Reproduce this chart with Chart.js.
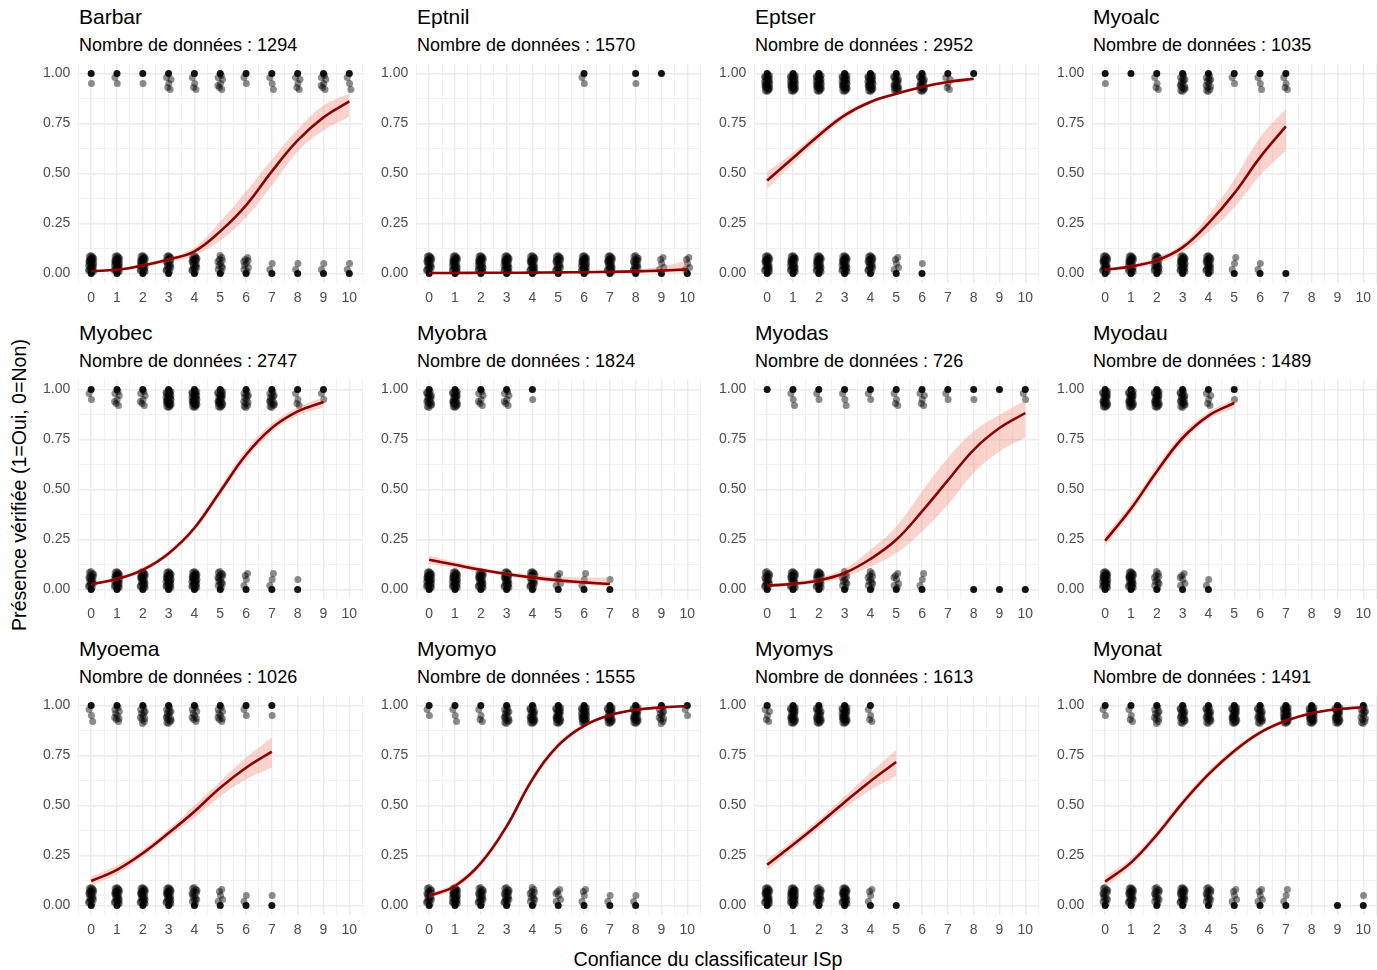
<!DOCTYPE html>
<html><head><meta charset="utf-8">
<script src="https://cdn.jsdelivr.net/npm/chart.js@4.4.0/dist/chart.umd.min.js"></script>
<style>
body{margin:0;background:#fff;width:1377px;height:970px;overflow:hidden;position:relative;font-family:"Liberation Sans",Arial,sans-serif;}
.t{position:absolute;white-space:nowrap;color:#000;line-height:1;}
.w{position:absolute;}
</style></head><body>
<script>
// ---------- DATA ----------
const species = ['Barbar','Eptnil','Eptser','Myoalc','Myobec','Myobra','Myodas','Myodau','Myoema','Myomyo','Myomys','Myonat'];
const nData   = [1294, 1570, 2952, 1035, 2747, 1824, 726, 1489, 1026, 1555, 1613, 1491];
const xTickLabels = ['0','1','2','3','4','5','6','7','8','9','10'];
const yTickLabels = ['0.00','0.25','0.50','0.75','1.00'];

// visible points per confidence level (index = 0..10), at 1 (Oui) and 0 (Non)
const barbarOnes  = [2,3,2,6,5,8,3,4,6,8,4];
const barbarZeros = [30,30,28,22,22,12,10,3,3,3,3];
const eptnilOnes  = [0,0,0,0,0,0,3,0,2,1,0];
const eptnilZeros = [22,28,28,28,26,22,30,26,20,6,6];
const eptserOnes  = [30,30,30,30,30,22,22,6,1,0,0];
const eptserZeros = [26,28,28,28,22,6,2,0,0,0,0];
const myoalcOnes  = [2,1,5,16,14,3,4,5,0,0,0];
const myoalcZeros = [26,28,28,30,24,4,3,1,0,0,0];
const myobecOnes  = [3,8,8,30,30,26,14,16,5,3,0];
const myobecZeros = [20,30,26,30,30,16,5,4,2,0,0];
const myobraOnes  = [20,26,8,8,2,0,0,0,0,0,0];
const myobraZeros = [30,30,26,26,22,6,4,2,0,0,0];
const myodasOnes  = [1,4,3,4,3,5,6,3,2,1,3];
const myodasZeros = [20,24,24,12,12,8,4,0,1,1,1];
const myodauOnes  = [26,26,26,20,6,2,0,0,0,0,0];
const myodauZeros = [30,26,12,7,3,0,0,0,0,0,0];
const myoemaOnes  = [4,10,12,16,10,10,3,2,0,0,0];
const myoemaZeros = [22,26,26,26,16,6,3,2,0,0,0];
const myomyoOnes  = [3,4,5,16,22,26,30,26,26,12,3];
const myomyoZeros = [20,30,20,20,12,7,5,3,3,0,0];
const myomysOnes  = [6,26,22,28,5,0,0,0,0,0,0];
const myomysZeros = [26,30,20,26,5,1,0,0,0,0,0];
const myonatOnes  = [3,5,12,20,20,26,20,30,30,26,14];
const myonatZeros = [16,22,16,22,16,6,6,4,0,1,2];

// fitted logistic curve and 95% band, read at x = 0,1,2,...
const barbarFit = [0.012,0.018,0.04,0.07,0.11,0.21,0.34,0.51,0.665,0.78,0.86];
const barbarLo  = [0.008,0.012,0.032,0.057,0.09,0.165,0.28,0.44,0.61,0.715,0.785];
const barbarHi  = [0.016,0.022,0.048,0.078,0.13,0.26,0.41,0.57,0.72,0.84,0.90];
const eptnilFit = [0.002,0.002,0.003,0.003,0.004,0.005,0.006,0.008,0.01,0.014,0.02];
const eptnilLo  = [0.001,0.001,0.002,0.002,0.003,0.004,0.004,0.005,0.005,0.005,0.005];
const eptnilHi  = [0.004,0.004,0.004,0.005,0.006,0.007,0.009,0.013,0.02,0.035,0.065];
const eptserFit = [0.465,0.577,0.69,0.79,0.857,0.898,0.932,0.957,0.973];
const eptserLo  = [0.423,0.55,0.67,0.775,0.847,0.89,0.924,0.948,0.962];
const eptserHi  = [0.507,0.603,0.71,0.805,0.867,0.906,0.94,0.966,0.982];
const myoalcFit = [0.018,0.035,0.065,0.13,0.25,0.40,0.58,0.735];
const myoalcLo  = [0.012,0.025,0.05,0.107,0.207,0.33,0.49,0.615];
const myoalcHi  = [0.025,0.045,0.08,0.148,0.29,0.47,0.68,0.823];
const myobecFit = [0.025,0.052,0.098,0.18,0.307,0.49,0.673,0.807,0.89,0.937];
const myobecLo  = [0.018,0.043,0.087,0.168,0.292,0.47,0.648,0.785,0.87,0.91];
const myobecHi  = [0.033,0.062,0.11,0.193,0.322,0.51,0.698,0.83,0.91,0.96];
const myobraFit = [0.148,0.123,0.098,0.077,0.06,0.045,0.035,0.027];
const myobraLo  = [0.128,0.108,0.088,0.067,0.047,0.032,0.022,0.012];
const myobraHi  = [0.17,0.138,0.11,0.088,0.074,0.062,0.06,0.06];
const myodasFit = [0.018,0.028,0.045,0.082,0.152,0.248,0.39,0.545,0.698,0.807,0.882];
const myodasLo  = [0.01,0.018,0.033,0.062,0.115,0.182,0.29,0.423,0.582,0.69,0.76];
const myodasHi  = [0.028,0.038,0.06,0.103,0.198,0.315,0.49,0.657,0.79,0.873,0.945];
const myodauFit = [0.243,0.403,0.59,0.757,0.868,0.932];
const myodauLo  = [0.218,0.38,0.565,0.735,0.85,0.907];
const myodauHi  = [0.268,0.428,0.615,0.78,0.886,0.952];
const myoemaFit = [0.122,0.178,0.261,0.362,0.47,0.588,0.688,0.769];
const myoemaLo  = [0.1,0.157,0.242,0.342,0.437,0.546,0.63,0.688];
const myoemaHi  = [0.145,0.2,0.28,0.382,0.5,0.62,0.739,0.84];
const myomyoFit = [0.047,0.097,0.211,0.395,0.63,0.8,0.898,0.951,0.978,0.99,0.997];
const myomyoLo  = [0.035,0.083,0.195,0.378,0.612,0.785,0.888,0.943,0.972,0.985,0.993];
const myomyoHi  = [0.06,0.112,0.228,0.412,0.648,0.815,0.908,0.958,0.984,0.994,0.999];
const myomysFit = [0.203,0.303,0.407,0.516,0.621,0.717];
const myomysLo  = [0.175,0.283,0.385,0.487,0.576,0.647];
const myomysHi  = [0.23,0.325,0.43,0.545,0.663,0.777];
const myonatFit = [0.119,0.214,0.353,0.513,0.655,0.772,0.864,0.923,0.961,0.981,0.991];
const myonatLo  = [0.095,0.195,0.335,0.495,0.638,0.757,0.852,0.914,0.954,0.975,0.986];
const myonatHi  = [0.145,0.235,0.372,0.532,0.672,0.787,0.876,0.932,0.968,0.986,0.995];

// ---------- PRESENTATION ----------
// fixed jitter pattern (display only)
const jitterDx = [0.01,-0.08,0.06,-0.03,0.09,-0.09,0.04,-0.05,0.08,-0.01,0.05,-0.07,0.00,0.10,-0.06,0.03,-0.10,0.07,-0.02,0.04,-0.07,0.01,0.09,-0.04,0.06,-0.10,0.03,-0.02,0.10,-0.08,0.02,-0.05];
const jitterDy = [0.05,0.02,0.08,0.07,0.03,0.06,0.01,0.04,0.065,0.09,0.035,0.085,0.025,0.075,0.055,0.065,0.015,0.045,0.03,0.085,0.07,0.04,0.01,0.06,0.02,0.04,0.075,0.015,0.05,0.045,0.09,0.08];

const panels = [
  [barbarOnes,barbarZeros,barbarFit,barbarLo,barbarHi],
  [eptnilOnes,eptnilZeros,eptnilFit,eptnilLo,eptnilHi],
  [eptserOnes,eptserZeros,eptserFit,eptserLo,eptserHi],
  [myoalcOnes,myoalcZeros,myoalcFit,myoalcLo,myoalcHi],
  [myobecOnes,myobecZeros,myobecFit,myobecLo,myobecHi],
  [myobraOnes,myobraZeros,myobraFit,myobraLo,myobraHi],
  [myodasOnes,myodasZeros,myodasFit,myodasLo,myodasHi],
  [myodauOnes,myodauZeros,myodauFit,myodauLo,myodauHi],
  [myoemaOnes,myoemaZeros,myoemaFit,myoemaLo,myoemaHi],
  [myomyoOnes,myomyoZeros,myomyoFit,myomyoLo,myomyoHi],
  [myomysOnes,myomysZeros,myomysFit,myomysLo,myomysHi],
  [myonatOnes,myonatZeros,myonatFit,myonatLo,myonatHi]
];

Chart.defaults.font.family = '"Liberation Sans", Arial, sans-serif';
Chart.defaults.animation = false;

function addText(txt, x, y, size, extra) {
  const d = document.createElement('div');
  d.className = 't';
  d.textContent = txt;
  d.style.left = x + 'px'; d.style.top = y + 'px'; d.style.fontSize = size + 'px';
  if (extra) Object.assign(d.style, extra);
  document.body.appendChild(d);
  return d;
}

const xTickVals = [];
for (let i = -1; i <= 2 * (xTickLabels.length - 1) + 1; i++) xTickVals.push(i / 2);
const yTickVals = [];
for (let i = 0; i <= 2 * (yTickLabels.length - 1); i++) yTickVals.push(i / 8);

const PW = 284, PH = 220;

function buildPoints(counts, level) {
  const base = [], jit = [];
  counts.forEach((n, x) => {
    if (n <= 0) return;
    base.push({x: x, y: level});
    for (let k = 0; k < n - 1; k++) {
      const j = k % jitterDx.length;
      const dy = jitterDy[j];
      jit.push({x: x + jitterDx[j], y: level === 1 ? 1 - dy : dy});
    }
  });
  return {base, jit};
}

panels.forEach((p, i) => {
  const [ones, zeros, fit, lo, hi] = p;
  const c = i % 4, r = Math.floor(i / 4);
  const plotL = 78 + 338 * c, plotT = 63 + 316 * r;

  addText(species[i], plotL + 1, plotT - 57, 21);
  addText('Nombre de données : ' + nData[i], plotL + 1, plotT - 27, 18);

  const P1 = buildPoints(ones, 1), P0 = buildPoints(zeros, 0);
  const toXY = arr => arr.map((v, x) => ({x: x, y: v}));

  const wrap = document.createElement('div');
  wrap.className = 'w';
  wrap.style.width = (PW + 60) + 'px';
  wrap.style.height = (PH + 40) + 'px';
  wrap.style.left = '0px'; wrap.style.top = '0px';
  const cv = document.createElement('canvas');
  wrap.appendChild(cv);
  document.body.appendChild(wrap);

  const chart = new Chart(cv, {
    type: 'scatter',
    data: {
      datasets: [
        {type:'line', data: toXY(hi), borderWidth: 0, pointRadius: 0, fill: '+1',
         backgroundColor: 'rgba(238,125,105,0.34)', borderColor: 'rgba(0,0,0,0)',
         tension: 0.4, order: 2},
        {type:'line', data: toXY(lo), borderWidth: 0, pointRadius: 0, fill: false,
         borderColor: 'rgba(0,0,0,0)', tension: 0.4, order: 2},
        {type:'line', data: toXY(fit), borderWidth: 2.6, pointRadius: 0, fill: false,
         borderColor: '#8B0000', tension: 0.4, order: 1},
        {data: P1.jit.concat(P0.jit), pointRadius: 3.5, borderWidth: 0,
         backgroundColor: 'rgba(0,0,0,0.45)', order: 4},
        {data: P1.base.concat(P0.base), pointRadius: 3.5, borderWidth: 0,
         backgroundColor: 'rgba(0,0,0,0.92)', order: 3}
      ]
    },
    options: {
      responsive: true, maintainAspectRatio: false, animation: false,
      layout: {padding: 0},
      plugins: {legend: {display: false}, tooltip: {enabled: false}, title: {display: false}},
      events: [],
      scales: {
        x: {
          type: 'linear', min: -0.5, max: 10.5,
          afterBuildTicks: s => { s.ticks = xTickVals.map(v => ({value: v})); },
          ticks: {
            autoSkip: false, maxRotation: 0, padding: 6,
            color: '#4d4d4d', font: {size: 14},
            callback: v => (Number.isInteger(v) && v >= 0 && v < xTickLabels.length) ? xTickLabels[v] : ''
          },
          grid: {color: '#ebebeb', drawTicks: false,
                 lineWidth: ctx => (ctx.tick && Number.isInteger(ctx.tick.value)) ? 1.4 : 0.7},
          border: {display: false}
        },
        y: {
          type: 'linear', min: -0.05, max: 1.05,
          afterBuildTicks: s => { s.ticks = yTickVals.map(v => ({value: v})); },
          ticks: {
            autoSkip: false, padding: 8, color: '#4d4d4d', font: {size: 14},
            callback: v => { const k = Math.round(v * 4); return Math.abs(v * 4 - k) < 1e-6 ? yTickLabels[k] : ''; }
          },
          grid: {color: '#ebebeb', drawTicks: false,
                 lineWidth: ctx => { if (!ctx.tick) return 0.7; const q = ctx.tick.value * 4; return Math.abs(q - Math.round(q)) < 1e-6 ? 1.4 : 0.7; }},
          border: {display: false}
        }
      }
    }
  });

  // fit chart area exactly to the panel box
  let ca = chart.chartArea;
  const w = (PW + 60) + (PW - (ca.right - ca.left));
  const h = (PH + 40) + (PH - (ca.bottom - ca.top));
  wrap.style.width = w + 'px';
  wrap.style.height = h + 'px';
  chart.resize();
  ca = chart.chartArea;
  wrap.style.left = (plotL - ca.left) + 'px';
  wrap.style.top = (plotT - ca.top) + 'px';
});

addText('Présence vérifiée (1=Oui, 0=Non)', 0, 0, 19.6, {
  left: '20px', top: '485px', transform: 'translate(-50%,-50%) rotate(-90deg)'
});
addText('Confiance du classificateur ISp', 0, 0, 19.6, {
  left: '708px', top: '960px', transform: 'translate(-50%,-50%)'
});
</script>
</body></html>
